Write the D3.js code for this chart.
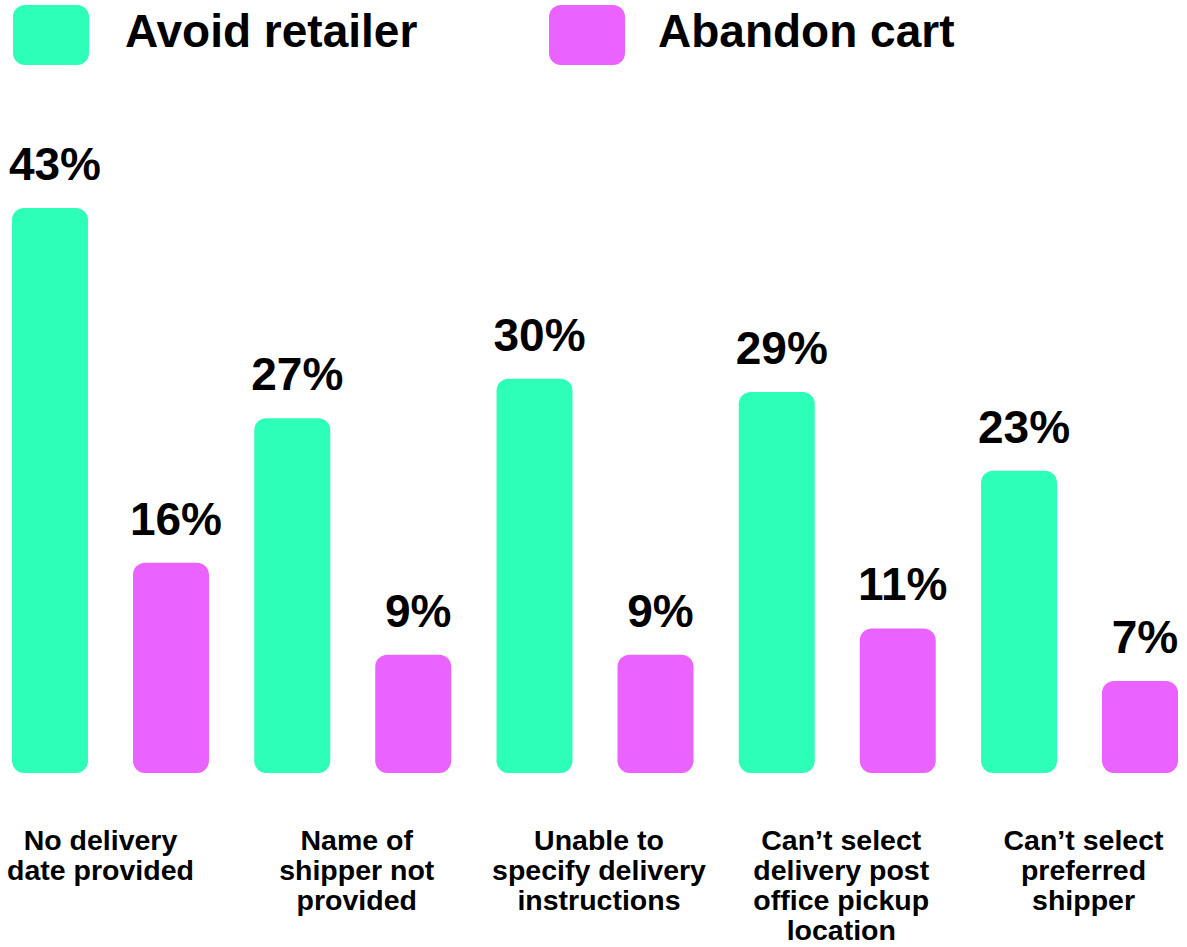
<!DOCTYPE html>
<html>
<head>
<meta charset="utf-8">
<script src="https://cdn.jsdelivr.net/npm/d3@7"></script>
<style>
  html, body { margin: 0; padding: 0; background: #fff; }
  svg { display: block; font-family: "Liberation Sans", Arial, sans-serif; }
</style>
</head>
<body>
<svg id="chart" width="1187" height="947"></svg>
<script>
const categories = [
  ['No delivery', 'date provided'],
  ['Name of', 'shipper not', 'provided'],
  ['Unable to', 'specify delivery', 'instructions'],
  ['Can\u2019t select', 'delivery post', 'office pickup', 'location'],
  ['Can\u2019t select', 'preferred', 'shipper'],
];
const seriesNames = ['Avoid retailer', 'Abandon cart'];
const avoidRetailer = [43, 27, 30, 29, 23];
const abandonCart = [16, 9, 9, 11, 7];

const COLORS = { 'Avoid retailer': '#2dffb8', 'Abandon cart': '#ea62ff' };

const baseline = 773;

const svg = d3.select('#chart');

// Legend: swatch left edge, text left edge
const legendPos = [[13, 125], [549, 658]];
seriesNames.forEach((name, i) => {
  const [sx, tx] = legendPos[i];
  svg.append('rect')
    .attr('x', sx)
    .attr('y', 5)
    .attr('width', 76)
    .attr('height', 60)
    .attr('rx', 12)
    .attr('fill', COLORS[name]);
  svg.append('text')
    .attr('x', tx)
    .attr('y', 47)
    .attr('font-size', '46px')
    .attr('font-weight', 700)
    .attr('fill', '#000')
    .text(name);
});

const keys = categories.map((c) => c.join(' '));
const rows = keys.map((k, i) => ({ key: k, lines: categories[i], values: [avoidRetailer[i], abandonCart[i]] }));

const x0 = d3.scaleBand().domain(keys).range([12, 1178]).paddingInner(0.187).paddingOuter(0);
const x1 = d3.scaleBand().domain(seriesNames).range([0, x0.bandwidth()]).paddingInner(0.372).paddingOuter(0);
const y = d3.scaleLinear().domain([0, 43]).range([baseline, 208]);

const groups = svg.append('g')
  .selectAll('g')
  .data(rows)
  .join('g')
  .attr('transform', (d) => `translate(${x0(d.key)},0)`);

const bars = groups.selectAll('g.bar')
  .data((d) => d.values.map((v, i) => ({ name: seriesNames[i], value: v })))
  .join('g')
  .attr('class', 'bar');

bars.append('rect')
  .attr('x', (d) => x1(d.name))
  .attr('y', (d) => y(d.value))
  .attr('width', x1.bandwidth())
  .attr('height', (d) => baseline - y(d.value))
  .attr('rx', 12)
  .attr('fill', (d) => COLORS[d.name]);

bars.append('text')
  .attr('x', (d) => x1(d.name) + x1.bandwidth() / 2 + 5)
  .attr('y', (d) => y(d.value) - 28)
  .attr('text-anchor', 'middle')
  .attr('font-size', '46px')
  .attr('font-weight', 700)
  .attr('fill', '#000')
  .text((d) => `${d.value}%`);

// Category labels
groups.append('text')
  .attr('text-anchor', 'middle')
  .attr('font-size', '28.5px')
  .attr('font-weight', 700)
  .attr('fill', '#000')
  .each(function (d, gi) {
    const t = d3.select(this);
    const cx = x0.bandwidth() / 2 + (gi === 0 ? -10 : 4);
    d.lines.forEach((line, i) => {
      t.append('tspan')
        .attr('x', cx)
        .attr('y', 850 + i * 30)
        .text(line);
    });
  });
</script>
</body>
</html>
